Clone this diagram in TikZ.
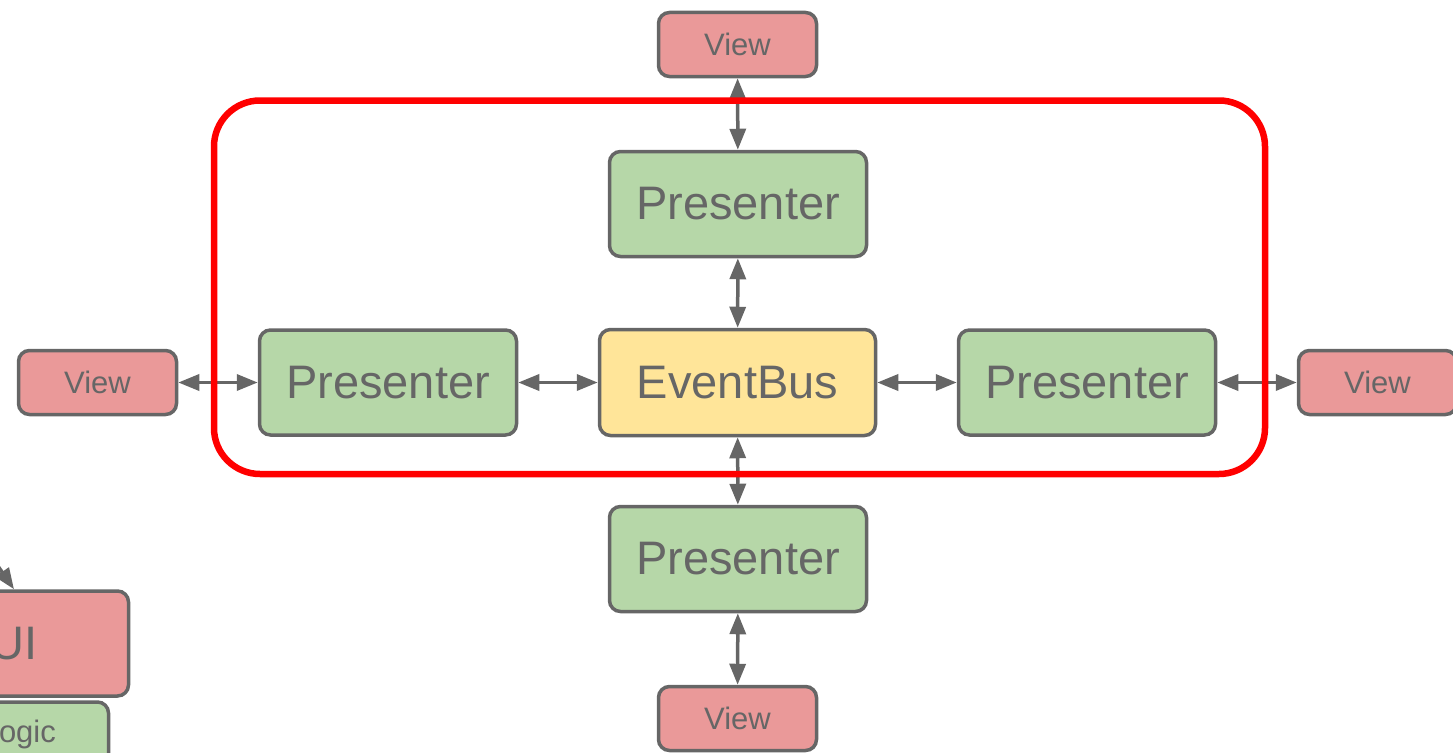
\documentclass[tikz,border=0pt]{standalone}
\usepackage{fontspec}
\setmainfont{Liberation Sans}
\usetikzlibrary{arrows.meta}
\definecolor{edgegray}{HTML}{666666}
\definecolor{viewred}{HTML}{EA9999}
\definecolor{presgreen}{HTML}{B6D7A8}
\definecolor{busyellow}{HTML}{FFE599}
\tikzset{
  box/.style={draw=edgegray, line width=3.5pt, rounded corners=11pt, inner sep=0pt,
    text=edgegray, font=\fontsize{47}{50}\selectfont},
  viewbox/.style={box, fill=viewred, minimum width=158pt, minimum height=64pt,
    font=\fontsize{31}{34}\selectfont},
  presbox/.style={box, fill=presgreen, minimum width=257pt, minimum height=105pt},
  busbox/.style={box, fill=busyellow, minimum width=276pt, minimum height=106pt},
  biarrow/.style={draw=edgegray, line width=3.5pt,
    {Triangle[length=21pt,width=16pt]}-{Triangle[length=21pt,width=16pt]}},
  onearrow/.style={draw=edgegray, line width=3.5pt, -{Triangle[length=21pt,width=16pt]}},
  frame/.style={draw=red, line width=6.5pt, rounded corners=46pt}
}
\begin{document}
\begin{tikzpicture}[x=1pt, y=-1pt]
  \useasboundingbox (0,0) rectangle (1453,752);
  \clip (0,0) rectangle (1453,752);

  % central hub and presenters
  \node[busbox]  (bus) at (737.5,382.5) {EventBus};
  \node[presbox] (pt)  at (738,204)     {Presenter};
  \node[presbox] (pl)  at (388,382.5)   {Presenter};
  \node[presbox] (pr)  at (1087,382.5)  {Presenter};
  \node[presbox] (pb)  at (738,559)     {Presenter};

  % views attached to each presenter
  \node[viewbox] (vt) at (737.5,44.5)  {View};
  \node[viewbox] (vl) at (97.5,382.5)  {View};
  \node[viewbox] (vr) at (1377.5,382.5) {View};
  \node[viewbox] (vb) at (737.5,718.5) {View};

  % partial UI / logic stack at the lower left
  \node[box, fill=presgreen, minimum width=169pt, minimum height=64pt,
        font=\fontsize{31}{34}\selectfont] (logic) at (24,734) {logic};
  \node[box, fill=viewred, minimum width=229pt, minimum height=105pt] (ui) at (14,643.5) {UI};
  \coordinate (uisrc) at (-16,546);
  \draw[onearrow] (uisrc) -- (ui.north);

  % connectors
  \draw[biarrow] (vt) -- (pt);
  \draw[biarrow] (pt) -- (bus);
  \draw[biarrow] (bus) -- (pb);
  \draw[biarrow] (pb) -- (vb);
  \draw[biarrow] (vl) -- (pl);
  \draw[biarrow] (pl) -- (bus);
  \draw[biarrow] (bus) -- (pr);
  \draw[biarrow] (pr) -- (vr);

  % boundary around the presenter group
  \draw[frame] (214,100.5) rectangle (1265,474);
\end{tikzpicture}
\end{document}
